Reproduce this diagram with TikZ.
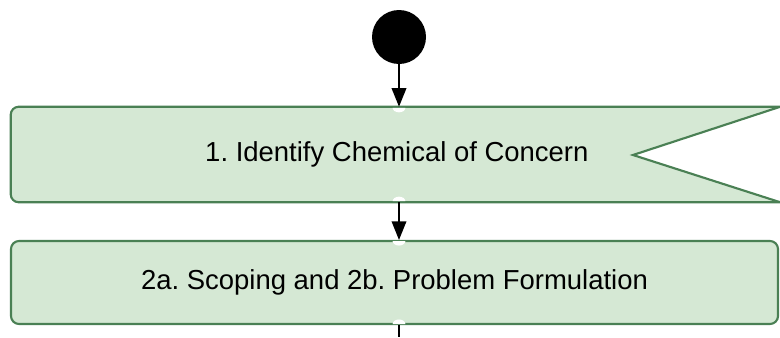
\documentclass[tikz,border=0pt]{standalone}
\usepackage{fontspec}
\setmainfont{Liberation Sans}
\usetikzlibrary{arrows.meta}
\usetikzlibrary{positioning}
\definecolor{boxfill}{HTML}{D5E8D4}
\definecolor{boxline}{RGB}{74,128,84}
\tikzset{flowbox/.style={draw=boxline,fill=boxfill,line width=1.6pt,rounded corners=6pt,inner sep=0pt}}
\tikzset{flowtext/.style={font=\fontsize{20.6}{24}\selectfont}}
\tikzset{flowarrow/.style={line width=1.2pt,-{Triangle[length=14pt,width=11pt]}}}
\tikzset{portdot/.style={fill=white,draw=none}}
\newcommand*\portbelow[1]{
    \fill[portdot] ($(#1)+(-4.8pt,-0.8pt)$) arc[start angle=180,end angle=360,x radius=4.8pt,y radius=3.4pt] -- cycle;
}
\newcommand*\portabove[1]{
    \fill[portdot] ($(#1)+(-4.8pt,0.8pt)$) arc[start angle=180,end angle=0,x radius=4.8pt,y radius=3.4pt] -- cycle;
}
\usetikzlibrary{calc}
\frenchspacing

\begin{document}
\begin{tikzpicture}[x=0.75pt,y=0.75pt]
    \useasboundingbox (0,0) rectangle (780,337);
    \node[circle,fill=black,minimum size=40.5pt,inner sep=0pt] (start) at (399,300) {};
    % step 1, with the notch on its right end
    \node[flowtext,minimum width=576.75pt,minimum height=71.25pt,inner sep=0pt] (identify) at (395.5,182.5) {};
    \coordinate (notch) at (633,182);
    \draw[draw=boxline,fill=boxfill,line width=1.6pt] (identify.north east)
        -- ([xshift=6pt]identify.north west) arc[start angle=90,end angle=180,radius=6pt]
        -- ([yshift=6pt]identify.south west) arc[start angle=180,end angle=270,radius=6pt]
        -- (identify.south east) -- (notch) -- cycle;
    \node[flowtext] at ([xshift=1pt]identify) {1. Identify Chemical of Concern};
    % step 2
    \node[flowbox,flowtext,minimum width=575.25pt,minimum height=62.25pt] (scoping) at (394.5,54.5) {2a. Scoping and 2b. Problem Formulation};
    \coordinate (exit) at (399,0);
    % connection points
    \coordinate (in1) at (start.south |- identify.north);
    \coordinate (out1) at (start.south |- identify.south);
    \coordinate (in2) at (start.south |- scoping.north);
    \coordinate (out2) at (start.south |- scoping.south);
    \portbelow{in1}
    \portabove{out1}
    \portbelow{in2}
    \portabove{out2}
    \draw[flowarrow] (start.south) -- (in1);
    \draw[flowarrow] (out1) -- (in2);
    \draw[line width=1.2pt] (out2) -- (exit);
\end{tikzpicture}
\end{document}
